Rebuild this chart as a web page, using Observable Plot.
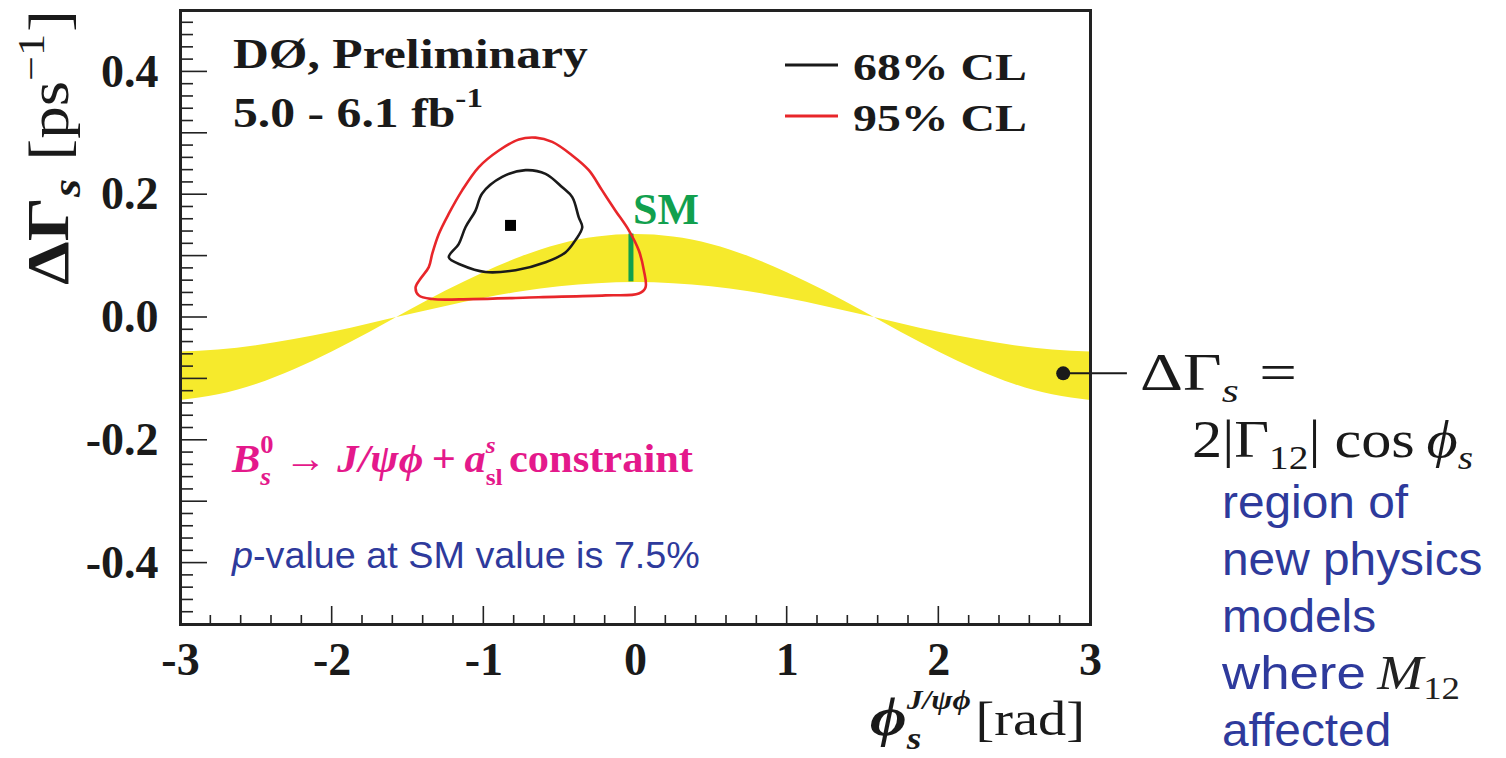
<!DOCTYPE html>
<html>
<head>
<meta charset="utf-8">
<script src="https://cdn.jsdelivr.net/npm/d3@7"></script>
<script src="https://cdn.jsdelivr.net/npm/@observablehq/plot@0.6"></script>
<style>
  html, body { margin: 0; padding: 0; background: #fff; overflow: hidden; }
  #chart svg { display: block; }
</style>
</head>
<body>
<div id="chart"></div>
<script>
// ---- data -------------------------------------------------------------
// phi_s grid (rad) with the lower / upper edges of the yellow band (ps^-1)
const bandPhi   = [-3, -2.75, -2.5, -2.25, -2, -1.75, -1.5, -1.25, -1, -0.75, -0.5, -0.25, 0,
                   0.25, 0.5, 0.75, 1, 1.25, 1.5, 1.75, 2, 2.25, 2.5, 2.75, 3];
const bandUpper = [-0.135, -0.126, -0.109, -0.085, -0.056, -0.024, 0.010, 0.043, 0.073, 0.099, 0.119, 0.131, 0.135,
                   0.131, 0.119, 0.099, 0.073, 0.043, 0.010, -0.024, -0.056, -0.085, -0.109, -0.126, -0.135];
const bandLower = [-0.056, -0.053, -0.046, -0.036, -0.024, -0.010, 0.004, 0.018, 0.031, 0.042, 0.050, 0.055, 0.057,
                   0.055, 0.050, 0.042, 0.031, 0.018, 0.004, -0.010, -0.024, -0.036, -0.046, -0.053, -0.056];

// 68% CL contour (phi_s, DeltaGamma_s)
const cl68Phi   = [-0.725, -0.593, -0.483, -0.417, -0.374, -0.351, -0.396, -0.462, -0.593, -0.791,
                   -0.989, -1.143, -1.231, -1.165, -1.121, -1.055, -1.011, -0.879];
const cl68Gamma = [0.240, 0.234, 0.212, 0.196, 0.163, 0.147, 0.126, 0.106, 0.090, 0.077,
                   0.074, 0.085, 0.098, 0.120, 0.147, 0.174, 0.202, 0.229];

// 95% CL contour
const cl95Phi   = [-1.450, -1.418, -1.363, -1.340, -1.297, -1.231, -1.143, -1.033, -0.901, -0.769,
                   -0.659, -0.549, -0.417, -0.308, -0.220, -0.132, -0.044, 0.022, 0.055, 0.066,
                   0.022, -0.198, -0.638, -1.077, -1.340, -1.429];
const cl95Gamma = [0.049, 0.063, 0.082, 0.104, 0.136, 0.169, 0.207, 0.245, 0.272, 0.290,
                   0.293, 0.286, 0.264, 0.240, 0.207, 0.174, 0.142, 0.109, 0.077, 0.049,
                   0.039, 0.036, 0.033, 0.030, 0.030, 0.036];

// best fit point
const bestPhi = [-0.824];
const bestGamma = [0.150];

// Standard Model prediction: phi_s and the DeltaGamma_s range
const smPhi = [-0.03];
const smLow = [0.058];
const smHigh = [0.136];

// annotated point on the band
const notePhi = [2.82];
const noteGamma = [-0.091];
const noteLineEnd = [3.24];

// axes
const xTickValues = [-3, -2, -1, 0, 1, 2, 3];
const xTickLabels = ["-3", "-2", "-1", "0", "1", "2", "3"];
const yTickValues = [-0.4, -0.2, 0, 0.2, 0.4];
const yTickLabels = ["-0.4", "-0.2", "0.0", "0.2", "0.4"];

// legend
const legendLabels = ["68% CL", "95% CL"];
const legendColors = ["#1a1a1a", "#e8262a"];

// ---- styling ----------------------------------------------------------
const SERIF = "'Liberation Serif', 'Times New Roman', serif";
const SANS = "'Liberation Sans', Arial, sans-serif";
const YELLOW = "#f6ea2c";
const GREEN = "#11a04e";
const PINK = "#e4198b";
const BLUE = "#2e3a9c";
const INK = "#1a1a1a";

const band = bandPhi.map((p, i) => ({phi: p, lo: bandLower[i], hi: bandUpper[i]}));
const cl68 = cl68Phi.map((p, i) => ({phi: p, dg: cl68Gamma[i]}));
const cl95 = cl95Phi.map((p, i) => ({phi: p, dg: cl95Gamma[i]}));
const best = bestPhi.map((p, i) => ({phi: p, dg: bestGamma[i]}));
const sm = smPhi.map((p, i) => ({phi: p, lo: smLow[i], hi: smHigh[i]}));
const note = notePhi.map((p, i) => ({phi: p, dg: noteGamma[i], end: noteLineEnd[i]}));

const plot = Plot.plot({
  width: 1506,
  height: 758,
  marginLeft: 180,
  marginRight: 416,
  marginTop: 10,
  marginBottom: 134,
  style: {background: "#fff", fontFamily: SERIF, overflow: "visible"},
  x: {domain: [-3, 3], axis: null},
  y: {domain: [-0.5, 0.5], axis: null},
  marks: [
    Plot.areaY(band, {x: "phi", y1: "lo", y2: "hi", fill: YELLOW, curve: "natural"}),
    Plot.ruleX(sm, {x: "phi", y1: "lo", y2: "hi", stroke: GREEN, strokeWidth: 5}),
    Plot.line(cl95, {x: "phi", y: "dg", stroke: legendColors[1], strokeWidth: 2.6, curve: "catmull-rom-closed"}),
    Plot.line(cl68, {x: "phi", y: "dg", stroke: legendColors[0], strokeWidth: 2.6, curve: "catmull-rom-closed"}),
    Plot.dot(best, {x: "phi", y: "dg", symbol: "square", r: 6.2, fill: "#000", stroke: null}),
    Plot.text(sm, {x: "phi", y: "hi", text: () => "SM", textAnchor: "start", lineAnchor: "bottom",
      dx: 2, dy: -10, fill: GREEN, fontSize: 44, fontWeight: "bold", fontFamily: SERIF}),
    Plot.link(note, {x1: "phi", x2: "end", y1: "dg", y2: "dg", stroke: INK, strokeWidth: 2}),
    Plot.dot(note, {x: "phi", y: "dg", r: 7, fill: INK, stroke: null}),
    Plot.frame({stroke: "#222", strokeWidth: 3}),
    Plot.text(yTickValues, {y: d => d, frameAnchor: "left", dx: -22, textAnchor: "end", lineAnchor: "middle",
      text: (d, i) => yTickLabels[i], fontSize: 46, fontWeight: "bold", fill: INK, fontFamily: SERIF}),
    Plot.text(xTickValues, {x: d => d, frameAnchor: "bottom", dy: 36, lineAnchor: "middle",
      text: (d, i) => xTickLabels[i], fontSize: 46, fontWeight: "bold", fill: INK, fontFamily: SERIF})
  ]
});

document.getElementById("chart").appendChild(plot);

// ---- ticks and typeset labels drawn with the plot's scales ---------------
const svg = d3.select(plot);
const X = plot.scale("x"), Y = plot.scale("y");
const fLeft = X.apply(-3), fRight = X.apply(3);
const fTop = Y.apply(0.5), fBottom = Y.apply(-0.5);

const ticks = svg.append("g").attr("stroke", "#222").attr("stroke-width", 1.6);
d3.range(-24, 25).forEach(k => {           // y ticks every 0.02, long every 0.1
  const yy = Y.apply(k / 50);
  const len = k % 5 === 0 ? 27 : 13;
  ticks.append("line").attr("x1", fLeft).attr("x2", fLeft + len).attr("y1", yy).attr("y2", yy);
});
d3.range(-14, 15).forEach(k => {           // x ticks every 0.2, long at integers
  const xx = X.apply(k / 5);
  const len = k % 5 === 0 ? 18 : 9;
  ticks.append("line").attr("x1", xx).attr("x2", xx).attr("y1", fBottom).attr("y2", fBottom - len);
});

// lays out a row of text pieces; a piece with `stack` puts sub/superscripts on top of each other
function row(parent, x, y, parts, opts = {}) {
  const g = parent.append("g");
  let cx = 0;
  for (const p of parts) {
    if (typeof p === "number") { cx += p; continue; }
    const items = p.stack || [p];
    let w = 0;
    for (const q of items) {
      const bold = q.bold !== undefined ? q.bold : opts.bold;
      const t = g.append("text")
        .attr("x", cx).attr("y", q.dy || 0)
        .attr("text-anchor", "start")
        .attr("font-family", q.family || opts.family || SERIF)
        .attr("font-size", q.size || opts.size || 40)
        .attr("font-weight", bold ? "bold" : "normal")
        .attr("font-style", q.italic ? "italic" : "normal")
        .attr("fill", q.fill || opts.fill || INK)
        .attr("stroke", "none")
        .style("white-space", "pre")
        .text(q.t);
      w = Math.max(w, t.node().getComputedTextLength());
    }
    cx += w;
  }
  const sx = opts.fit ? opts.fit / cx : (opts.sx || 1);
  const x0 = opts.anchor === "end" ? x - cx * sx : opts.anchor === "middle" ? x - cx * sx / 2 : x;
  g.attr("transform", `translate(${x0},${y}) scale(${sx},1)`);
  return g;
}

// header
row(svg, fLeft + 53, fTop + 58, [{t: "DØ, Preliminary"}], {size: 42, bold: true, fit: 355});
row(svg, fLeft + 53, fTop + 117, [{t: "5.0 - 6.1 fb"}, {t: "-1", size: 28, dy: -20}], {size: 42, bold: true, fit: 250});

// legend
legendLabels.forEach((lab, i) => {
  const yy = fTop + 55 + i * 51;
  svg.append("line").attr("x1", 785).attr("x2", 838).attr("y1", yy).attr("y2", yy)
    .attr("stroke", legendColors[i]).attr("stroke-width", 3);
  row(svg, 853, yy + 15, [{t: lab}], {size: 38, bold: true, fit: 174});
});

// process label
row(svg, fLeft + 52, Y.apply(-0.253), [
  {t: "B", italic: true},
  {stack: [{t: "0", size: 25, dy: -19}, {t: "s", size: 26, italic: true, dy: 13}]},
  10, {t: "→"}, 10, {t: "J/ψϕ", italic: true}, 8, {t: "+"}, 8, {t: "a", italic: true},
  {stack: [{t: "s", size: 24, italic: true, dy: -19}, {t: "sl", size: 24, dy: 13}]},
  6, {t: "constraint"}
], {size: 40, bold: true, fill: PINK, fit: 461});

row(svg, fLeft + 52, Y.apply(-0.408), [
  {t: "p", italic: true}, {t: "-value at SM value is 7.5%"}
], {size: 37, family: SANS, fill: BLUE, fit: 468});

// relation next to the annotated point
row(svg, 1140, Y.apply(-0.119), [
  {t: "ΔΓ"}, {t: "s", size: 34, italic: true, dy: 12}, 16, {t: "="}
], {size: 52, fit: 157});
row(svg, 1192, Y.apply(-0.228), [
  {t: "2|Γ"}, {t: "12", size: 34, dy: 12}, {t: "|"}, 12, {t: "cos"}, 10, {t: "ϕ", italic: true},
  {t: "s", size: 34, italic: true, dy: 12}
], {size: 52, fit: 281});

const noteLines = ["region of", "new physics", "models", "where", "affected"];
noteLines.forEach((line, i) => {
  const by = Y.apply(-0.328) + i * 57;
  if (line === "where") {
    row(svg, 1222, by, [
      {t: "where", family: SANS, fill: BLUE, size: 46}, 10,
      {t: "M", italic: true, size: 48, fill: "#222"}, {t: "12", size: 32, dy: 10, fill: "#222"}
    ], {fit: 238});
  } else {
    row(svg, 1222, by, [{t: line}], {size: 46, family: SANS, fill: BLUE, sx: 1.04});
  }
});

// y axis title (rotated)
const yTitle = svg.append("g").attr("transform", `translate(68, 285) rotate(-90)`);
row(yTitle, 0, 0, [
  {t: "ΔΓ", bold: true}, {t: "s", size: 40, italic: true, bold: true, dy: 12}, 16,
  {t: "[ps", size: 56}, {t: "−1", size: 38, dy: -24}, 2, {t: "]", size: 56}
], {size: 60, fit: 275});

// x axis title
row(svg, fRight - 5, fBottom + 111, [
  {t: "ϕ", italic: true, bold: true, size: 54},
  {stack: [{t: "J/ψϕ", size: 27, italic: true, bold: true, dy: -26}, {t: "s", size: 32, italic: true, bold: true, dy: 14}]},
  4, {t: "[rad]", size: 48}
], {anchor: "end", fit: 215});
</script>
</body>
</html>
